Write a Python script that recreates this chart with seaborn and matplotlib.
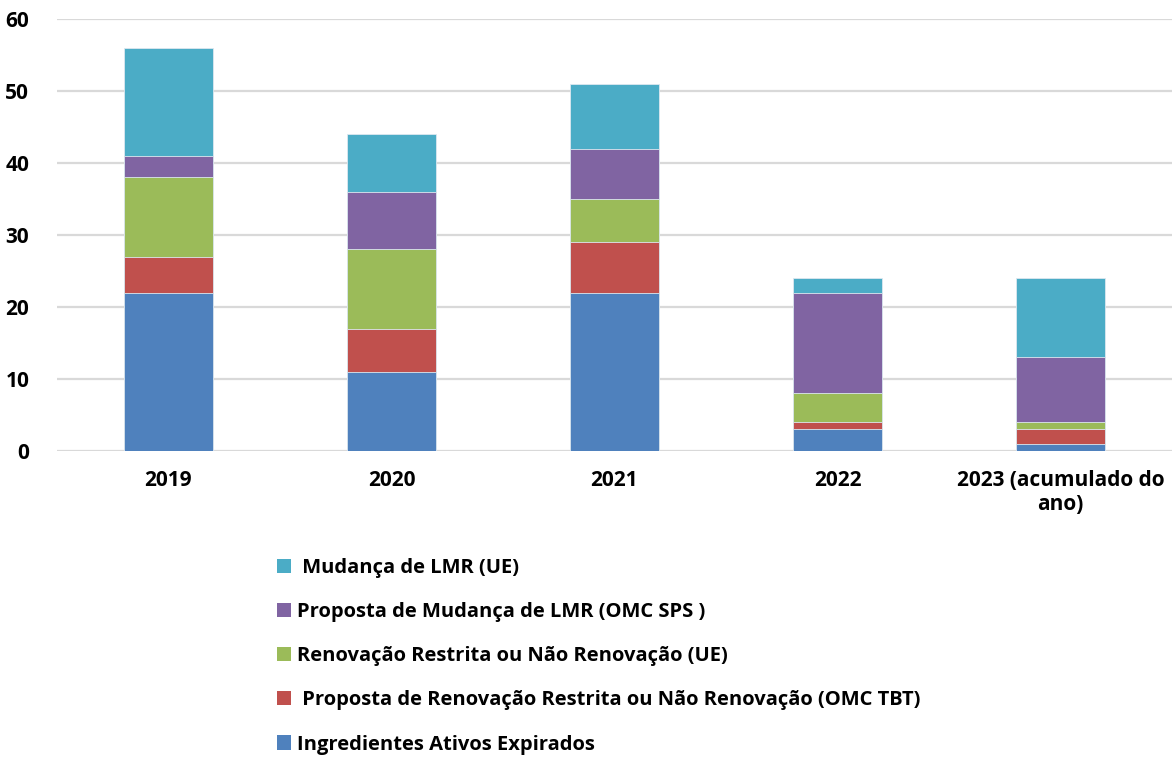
import numpy as np
import pandas as pd
import seaborn as sns
import matplotlib.pyplot as plt
from matplotlib.patches import Patch

# Data
years = ['2019', '2020', '2021', '2022', '2023 (acumulado do\nano)']
ingredientes = [22, 11, 22, 3, 1]
prop_renovacao = [5, 6, 7, 1, 2]
renovacao = [11, 11, 6, 4, 1]
prop_mudanca = [3, 8, 7, 14, 9]
mudanca = [15, 8, 9, 2, 11]

series_names = ['Ingredientes Ativos Expirados',
                ' Proposta de Renovação Restrita ou Não Renovação (OMC TBT)',
                'Renovação Restrita ou Não Renovação (UE)',
                'Proposta de Mudança de LMR (OMC SPS )',
                ' Mudança de LMR (UE)']
series_vals = [ingredientes, prop_renovacao, renovacao, prop_mudanca, mudanca]
colors = ['#4F81BD', '#C0504D', '#9BBB59', '#8064A2', '#4BACC6']

sns.set_theme(style='white')
plt.rcParams['font.family'] = ['Open Sans', 'DejaVu Sans']
plt.rcParams['font.weight'] = 'bold'
plt.rcParams['text.color'] = 'black'

fig = plt.figure(figsize=(11.72, 7.58), dpi=100)
ax = fig.add_axes([0.0486, 0.405, 0.9514, 0.57])

# stacked bars: draw cumulative totals from top layer down
cum = np.cumsum(np.array(series_vals), axis=0)
for i in range(len(series_vals) - 1, -1, -1):
    df = pd.DataFrame({'year': years, 'total': cum[i]})
    sns.barplot(data=df, x='year', y='total', color=colors[i], width=0.4,
                saturation=1, edgecolor='#dde8f0', linewidth=0.6, ax=ax, zorder=3)

ax.set_ylim(0, 60)
ax.set_xlim(-0.5, 4.5)
ax.set_yticks(range(0, 61, 10))
ax.yaxis.grid(True, color='#d9d9d9', linewidth=1.6, zorder=0)
ax.set_axisbelow(True)
for s in ax.spines.values():
    s.set_visible(False)
ax.set_xlabel('')
ax.set_ylabel('')
ax.tick_params(axis='both', length=0, labelsize=15, labelcolor='black')
ax.tick_params(axis='x', pad=14)
ax.tick_params(axis='y', pad=20)
for lbl in ax.get_xticklabels() + ax.get_yticklabels():
    lbl.set_fontweight('bold')
for lbl in ax.get_xticklabels():
    lbl.set_linespacing(1.15)

handles = [Patch(facecolor=colors[i], edgecolor='none') for i in range(4, -1, -1)]
labels = [series_names[i] for i in range(4, -1, -1)]
fig.legend(handles, labels, loc='upper left', bbox_to_anchor=(0.236, 0.264),
           frameon=False, prop={'size': 14.5, 'weight': 'bold'},
           handlelength=0.7, handleheight=0.7, handletextpad=0.3,
           labelspacing=1.2, borderpad=0, borderaxespad=0, labelcolor='black')

fig.savefig('out.png', dpi=100)
